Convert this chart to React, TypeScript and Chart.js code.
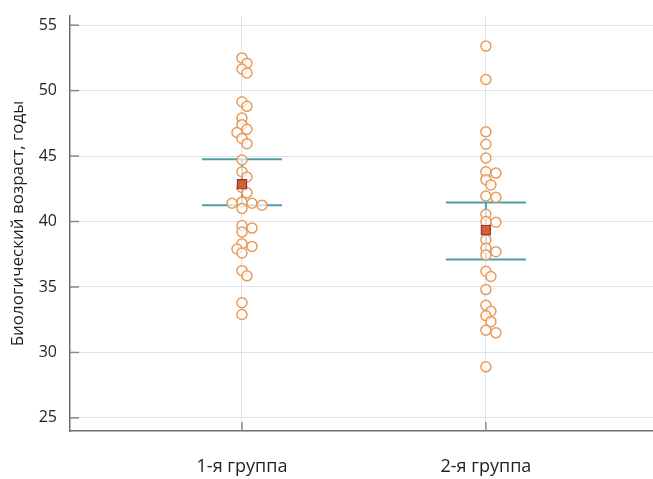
import { useEffect, useRef } from "react";
import { Chart, registerables } from "chart.js";

Chart.register(...registerables);

const CATEGORIES = ["1-я группа", "2-я группа"];
const GROUP_1 = [
  52.5, 52.1, 51.65, 51.35, 49.15, 48.8, 47.9, 47.4, 47.05, 46.8, 46.35, 45.95,
  44.7, 43.8, 43.4, 42.6, 42.2, 41.5, 41.4, 41.4, 41.25, 41.0, 39.7, 39.5, 39.2,
  38.3, 38.1, 37.9, 37.6, 36.25, 35.85, 33.8, 32.9,
];
const GROUP_2 = [
  53.4, 50.85, 46.85, 45.9, 44.85, 43.8, 43.7, 43.2, 42.8, 41.95, 41.85, 40.55,
  40.0, 39.95, 38.6, 37.95, 37.7, 37.45, 36.2, 35.8, 34.8, 33.6, 33.15, 32.8,
  32.35, 31.7, 31.5, 28.9,
];
const MEANS = [42.85, 39.35];
const UPPER = [44.75, 41.45];
const LOWER = [41.25, 37.1];
const Y_TICKS = [25, 30, 35, 40, 45, 50, 55];
const Y_TITLE = "Биологический возраст, годы";

const Y_MIN = 24;
const Y_MAX = 55.7;
const X_MIN = 0.295;
const X_MAX = 2.685;
const CAP_HALF = 0.164;

const TEAL = "#4f9ea6";
const ORANGE = "#e89c5a";
const FONT = "'Open Sans', 'Noto Sans', sans-serif";
const STEP = 5;
const MIN_DIST = 6;

const innerTicks = {
  id: "innerTicks",
  beforeDatasetsDraw(chart: any) {
    const { ctx, chartArea, scales } = chart;
    const x = scales.x;
    const y = scales.y;
    ctx.save();
    ctx.strokeStyle = "#8a8a8a";
    ctx.lineWidth = 1.5;
    y.ticks.forEach((t: any) => {
      const py = y.getPixelForValue(t.value);
      ctx.beginPath();
      ctx.moveTo(chartArea.left, py);
      ctx.lineTo(chartArea.left + 9, py);
      ctx.stroke();
    });
    x.ticks.forEach((t: any) => {
      const px = x.getPixelForValue(t.value);
      ctx.beginPath();
      ctx.moveTo(px, chartArea.bottom);
      ctx.lineTo(px, chartArea.bottom - 9);
      ctx.stroke();
    });
    ctx.restore();
  },
};

export default function App() {
  const ref = useRef<HTMLCanvasElement | null>(null);

  useEffect(() => {
    document.body.style.margin = "0";
    const canvas = ref.current;
    if (!canvas) return;

    const groups = [GROUP_1, GROUP_2];
    const datasets: any[] = [];

    datasets.push({
      label: "mean",
      data: MEANS.map((m, i) => ({ x: i + 1, y: m })),
      pointStyle: "rect",
      pointRadius: 6.4,
      pointBackgroundColor: "#d5622b",
      pointBorderColor: "#9c2f4c",
      pointBorderWidth: 1.2,
      showLine: false,
      order: 0,
    });

    groups.forEach((g, i) => {
      datasets.push({
        label: "pts" + i,
        data: g.map((v) => ({ x: i + 1, y: v })),
        pointStyle: "circle",
        pointRadius: 5,
        pointBackgroundColor: "rgba(255,255,255,0.7)",
        pointBorderColor: ORANGE,
        pointBorderWidth: 1.5,
        showLine: false,
        order: 1,
      });
    });

    CATEGORIES.forEach((_, i) => {
      const c = i + 1;
      const common = {
        showLine: true,
        borderColor: TEAL,
        borderWidth: 2,
        pointRadius: 0,
        order: 2,
      };
      datasets.push({ ...common, data: [{ x: c, y: LOWER[i] }, { x: c, y: UPPER[i] }] });
      datasets.push({ ...common, data: [{ x: c - CAP_HALF, y: UPPER[i] }, { x: c + CAP_HALF, y: UPPER[i] }] });
      datasets.push({ ...common, data: [{ x: c - CAP_HALF, y: LOWER[i] }, { x: c + CAP_HALF, y: LOWER[i] }] });
    });

    const chart = new Chart(canvas, {
      type: "scatter",
      data: { datasets },
      options: {
        animation: false,
        responsive: false,
        devicePixelRatio: 1,
        layout: { autoPadding: false, padding: { top: 16, right: 0, left: 0, bottom: 0 } },
        plugins: { legend: { display: false }, tooltip: { enabled: false } },
        scales: {
          x: {
            type: "linear",
            min: X_MIN,
            max: X_MAX,
            afterBuildTicks: (s: any) => {
              s.ticks = CATEGORIES.map((_, i) => ({ value: i + 1 }));
            },
            afterFit: (s: any) => {
              s.height = 48;
              s.paddingLeft = 0;
              s.paddingRight = 0;
            },
            ticks: {
              callback: (v: any) => CATEGORIES[Math.round(Number(v)) - 1] ?? "",
              font: { family: FONT, size: 18 },
              color: "#231f20",
              padding: 25,
              maxRotation: 0,
            },
            grid: { color: "#e2e2e2", lineWidth: 1, drawTicks: false },
            border: { display: true, color: "#6e6e6e", width: 1.5 },
          },
          y: {
            type: "linear",
            min: Y_MIN,
            max: Y_MAX,
            afterBuildTicks: (s: any) => {
              s.ticks = Y_TICKS.map((v) => ({ value: v }));
            },
            afterFit: (s: any) => {
              s.width = 70;
              s.paddingTop = 0;
              s.paddingBottom = 0;
            },
            ticks: {
              font: { family: FONT, size: 16 },
              color: "#231f20",
              padding: 13,
            },
            grid: { color: "#e2e2e2", lineWidth: 1, drawTicks: false },
            border: { display: true, color: "#6e6e6e", width: 1.5 },
            title: {
              display: true,
              text: Y_TITLE,
              font: { family: FONT, size: 17 },
              color: "#231f20",
              padding: { top: 8, bottom: 0 },
            },
          },
        },
      },
      plugins: [innerTicks],
    });

    const xs: any = chart.scales.x;
    const ys: any = chart.scales.y;
    const swarm = (values: number[], center: number) => {
      const cx = xs.getPixelForValue(center);
      const placed: { x: number; y: number }[] = [];
      return values.map((v) => {
        const py = ys.getPixelForValue(v);
        let dx = 0;
        for (let k = 0; k < 40; k++) {
          const off = k === 0 ? 0 : (k % 2 === 1 ? 1 : -1) * Math.ceil(k / 2) * STEP;
          if (placed.every((p) => Math.hypot(p.x - off, p.y - py) >= MIN_DIST)) {
            dx = off;
            break;
          }
        }
        placed.push({ x: dx, y: py });
        return { x: xs.getValueForPixel(cx + dx), y: v };
      });
    };
    groups.forEach((g, i) => {
      chart.data.datasets[1 + i].data = swarm(g, i + 1) as any;
    });
    chart.update("none");

    return () => chart.destroy();
  }, []);

  return <canvas ref={ref} width={653} height={479} style={{ display: "block", width: 653, height: 479 }} />;
}
